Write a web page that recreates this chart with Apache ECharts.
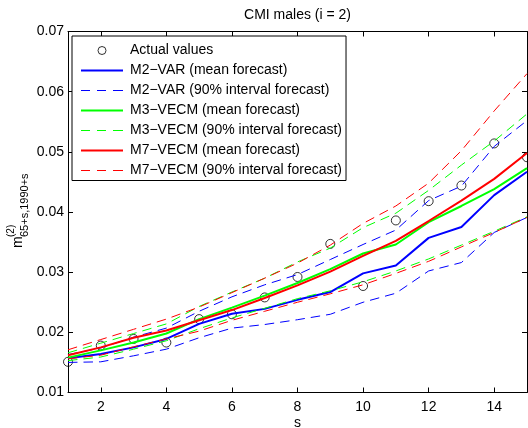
<!DOCTYPE html>
<html>
<head>
    <meta charset="utf-8">
    <title>CMI males (i = 2)</title>
    <script src="https://cdn.jsdelivr.net/npm/echarts@6.0.0/dist/echarts.min.js"></script>
    <style>
        html, body { margin: 0; padding: 0; background: #fff; }
        #chart { width: 528px; height: 428px; }
    </style>
</head>
<body>
    <div id="chart"></div>
    <script>
        // forecast horizon s and tick labels
        var sValues = [1, 2, 3, 4, 5, 6, 7, 8, 9, 10, 11, 12, 13, 14, 15];
        var xTicks = [2, 4, 6, 8, 10, 12, 14];

        // actual mortality rates (circles)
        var actual = [0.0151, 0.0178, 0.0189, 0.0183, 0.0222, 0.0230, 0.0258, 0.0292, 0.0347, 0.0277, 0.0386, 0.0418, 0.0444, 0.0514, 0.0491];

        // M2-VAR
        var m2Mean  = [0.0157, 0.0164, 0.0175, 0.0189, 0.0214, 0.0231, 0.0239, 0.0254, 0.0267, 0.0298, 0.0311, 0.0357, 0.0375, 0.0428, 0.0467];
        var m2Upper = [0.0163, 0.0174, 0.0192, 0.0207, 0.0235, 0.0259, 0.0279, 0.0296, 0.0321, 0.0346, 0.0370, 0.0419, 0.0443, 0.0509, 0.0552];
        var m2Lower = [0.0150, 0.0151, 0.0161, 0.0172, 0.0191, 0.0207, 0.0213, 0.0221, 0.0230, 0.0250, 0.0265, 0.0302, 0.0316, 0.0366, 0.0391];

        // M3-VECM
        var m3Mean  = [0.0158, 0.0170, 0.0183, 0.0198, 0.0222, 0.0241, 0.0261, 0.0282, 0.0305, 0.0331, 0.0346, 0.0383, 0.0410, 0.0438, 0.0473];
        var m3Upper = [0.0166, 0.0182, 0.0198, 0.0214, 0.0243, 0.0267, 0.0290, 0.0317, 0.0340, 0.0374, 0.0398, 0.0436, 0.0478, 0.0518, 0.0563];
        var m3Lower = [0.0153, 0.0159, 0.0172, 0.0186, 0.0206, 0.0224, 0.0240, 0.0256, 0.0269, 0.0284, 0.0302, 0.0322, 0.0345, 0.0368, 0.0392];

        // M7-VECM
        var m7Mean  = [0.0162, 0.0175, 0.0191, 0.0203, 0.0220, 0.0237, 0.0257, 0.0278, 0.0301, 0.0327, 0.0352, 0.0385, 0.0419, 0.0455, 0.0498];
        var m7Upper = [0.0171, 0.0188, 0.0205, 0.0222, 0.0242, 0.0266, 0.0290, 0.0315, 0.0345, 0.0381, 0.0410, 0.0448, 0.0502, 0.0568, 0.0630];
        var m7Lower = [0.0156, 0.0162, 0.0176, 0.0189, 0.0202, 0.0220, 0.0235, 0.0250, 0.0264, 0.0279, 0.0298, 0.0318, 0.0342, 0.0366, 0.0391];

        var FONT = '"Liberation Sans", Arial, Helvetica, sans-serif';
        var DASH = [9.5, 6];

        // legend icons: a solid bar and three short dashes, 42 px wide
        var ICON_SOLID = 'path://M0,0H42V2H0Z';
        var ICON_DASHED = 'path://M0,0H9V1H0Z M16,0H25V1H16Z M32,0H42V1H32Z';

        function pairs(vals) {
            return sValues.map(function (s, i) { return [s, vals[i]]; });
        }

        function meanLine(name, color, vals) {
            return {
                name: name, type: 'line', data: pairs(vals), symbol: 'none', color: color,
                lineStyle: { color: color, width: 2 }
            };
        }

        function bandLine(name, color, vals) {
            return {
                name: name, type: 'line', data: pairs(vals), symbol: 'none', color: color,
                lineStyle: { color: color, width: 1, type: DASH }
            };
        }

        function legendLine(name, color, dashed) {
            return {
                name: name,
                icon: dashed ? ICON_DASHED : ICON_SOLID,
                itemStyle: { color: color, borderWidth: 0, opacity: 1 }
            };
        }

        function label(text, x, y, size, rotate, align) {
            return {
                type: 'text', x: x, y: y, rotation: rotate ? Math.PI / 2 : 0,
                style: {
                    text: text, font: size + 'px ' + FONT, fill: '#000',
                    align: align, verticalAlign: 'middle', textAlign: align, textVerticalAlign: 'middle'
                }
            };
        }

        var chart = echarts.init(document.getElementById('chart'));
        var option = {
            animation: false,
            backgroundColor: '#fff',
            textStyle: { fontFamily: FONT, color: '#000' },
            grid: { left: 68, right: 1, top: 31.5, bottom: 35.5, outerBoundsMode: 'none', containLabel: false },
            graphic: [
                label('CMI males (i = 2)', 297.5, 15, 14, false, 'center'),
                label('s', 297.5, 423.5, 14, false, 'center'),
                // y axis label m^(2)_{65+s,1990+s}
                label('m', 18, 248, 14, true, 'left'),
                label('(2)', 11, 237, 10, true, 'left'),
                label('65+s,1990+s', 25, 237, 11, true, 'left')
            ],
            legend: {
                orient: 'vertical',
                left: 72, top: 36,
                padding: [4.5, 4, 0, 9],
                itemGap: 0,
                itemWidth: 42, itemHeight: 8,
                symbolKeepAspect: true,
                backgroundColor: '#fff',
                borderColor: '#000', borderWidth: 1, borderRadius: 0,
                textStyle: { fontFamily: FONT, fontSize: 14, color: '#000', lineHeight: 20, padding: [0, 0, 0, 2] },
                data: [
                    { name: 'Actual values', icon: 'circle', itemStyle: { color: 'transparent', borderColor: '#000', borderWidth: 1 } },
                    legendLine('M2−VAR (mean forecast)', '#0000ff', false),
                    legendLine('M2−VAR (90% interval forecast)', '#0000ff', true),
                    legendLine('M3−VECM (mean forecast)', '#00ff00', false),
                    legendLine('M3−VECM (90% interval forecast)', '#00ff00', true),
                    legendLine('M7−VECM (mean forecast)', '#ff0000', false),
                    legendLine('M7−VECM (90% interval forecast)', '#ff0000', true)
                ]
            },
            xAxis: [
                {
                    type: 'value', min: 1, max: 15,
                    axisLine: { lineStyle: { color: '#000', width: 1 } },
                    axisTick: { inside: true, length: 5, customValues: xTicks, lineStyle: { color: '#000' } },
                    axisLabel: { customValues: xTicks, margin: 8, fontSize: 14, color: '#000', fontFamily: FONT },
                    splitLine: { show: false }
                },
                {
                    type: 'value', min: 1, max: 15, position: 'top',
                    axisLine: { lineStyle: { color: '#000', width: 1 } },
                    axisTick: { inside: true, length: 5, customValues: xTicks, lineStyle: { color: '#000' } },
                    axisLabel: { show: false },
                    splitLine: { show: false }
                }
            ],
            yAxis: [
                {
                    type: 'value', min: 0.01, max: 0.07, interval: 0.01,
                    axisLine: { show: true, lineStyle: { color: '#000', width: 1 } },
                    axisTick: { show: true, inside: true, length: 5, lineStyle: { color: '#000' } },
                    axisLabel: {
                        margin: 4, fontSize: 14, color: '#000', fontFamily: FONT,
                        formatter: function (v) { return v.toFixed(2); }
                    },
                    splitLine: { show: false }
                },
                {
                    type: 'value', min: 0.01, max: 0.07, interval: 0.01, position: 'right',
                    axisLine: { show: true, lineStyle: { color: '#000', width: 1 } },
                    axisTick: { show: true, inside: true, length: 5, lineStyle: { color: '#000' } },
                    axisLabel: { show: false },
                    splitLine: { show: false }
                }
            ],
            series: [
                {
                    name: 'Actual values', type: 'scatter', data: pairs(actual),
                    symbol: 'circle', symbolSize: 9,
                    itemStyle: { color: 'transparent', borderColor: '#000', borderWidth: 1 }
                },
                meanLine('M2−VAR (mean forecast)', '#0000ff', m2Mean),
                bandLine('M2−VAR (90% interval forecast)', '#0000ff', m2Upper),
                bandLine('M2−VAR (90% interval forecast)', '#0000ff', m2Lower),
                meanLine('M3−VECM (mean forecast)', '#00ff00', m3Mean),
                bandLine('M3−VECM (90% interval forecast)', '#00ff00', m3Upper),
                bandLine('M3−VECM (90% interval forecast)', '#00ff00', m3Lower),
                meanLine('M7−VECM (mean forecast)', '#ff0000', m7Mean),
                bandLine('M7−VECM (90% interval forecast)', '#ff0000', m7Upper),
                bandLine('M7−VECM (90% interval forecast)', '#ff0000', m7Lower)
            ]
        };
        chart.setOption(option);
    </script>
</body>
</html>
